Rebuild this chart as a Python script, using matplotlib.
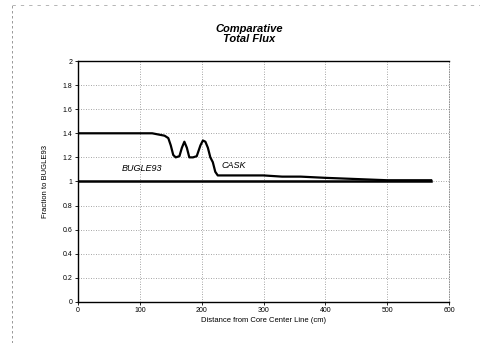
import matplotlib
matplotlib.use("Agg")
import matplotlib.pyplot as plt
import matplotlib.ticker as ticker

plt.rcParams['font.family'] = ['Liberation Sans', 'DejaVu Sans']

# CASK curve
cask_x = [0, 60, 100, 120, 130, 140, 146, 150, 154, 158, 164, 168, 172, 176, 180, 186,
          192, 198, 202, 206, 210, 214, 218, 222, 226, 240, 300, 330, 360, 400, 450, 500, 571]
cask_y = [1.40, 1.40, 1.40, 1.40, 1.39, 1.38, 1.36, 1.30, 1.22, 1.20, 1.21, 1.28, 1.33, 1.28,
          1.20, 1.20, 1.21, 1.30, 1.34, 1.33, 1.28, 1.20, 1.16, 1.08, 1.05, 1.05, 1.05, 1.04,
          1.04, 1.03, 1.02, 1.01, 1.01]

# BUGLE93 reference
bugle_x = [0, 571]
bugle_y = [1.0, 1.0]

xticks = [0, 100, 200, 300, 400, 500, 600]
yticks = [0, 0.2, 0.4, 0.6, 0.8, 1, 1.2, 1.4, 1.6, 1.8, 2]

fig = plt.figure(figsize=(4.8, 3.43), dpi=100)
ax = fig.add_axes([0.1625, 0.12, 0.773, 0.702])

ax.plot(bugle_x, bugle_y, color='black', lw=1.8)
ax.plot(cask_x, cask_y, color='black', lw=1.6)

ax.text(70, 1.07, 'BUGLE93', fontsize=6.5, style='italic', ha='left', va='bottom')
ax.text(232, 1.13, 'CASK', fontsize=6.5, style='italic', ha='left', va='center')

ax.set_xlim(0, 600)
ax.set_ylim(0, 2)
ax.set_xticks(xticks)
ax.set_yticks(yticks)
ax.yaxis.set_major_formatter(ticker.FuncFormatter(lambda v, p: '%g' % v))
ax.tick_params(labelsize=5, length=2.5, width=0.6, direction='out', pad=1.5)

ax.grid(True, color='#888888', linestyle=(0, (1, 2)), linewidth=0.6)
ax.spines['left'].set_linewidth(1.0)
ax.spines['bottom'].set_linewidth(1.0)
ax.spines['top'].set_linewidth(1.0)
ax.spines['right'].set_linestyle((0, (1, 2)))
ax.spines['right'].set_linewidth(0.6)
ax.spines['right'].set_color('#777777')

ax.set_xlabel('Distance from Core Center Line (cm)', fontsize=5.5, labelpad=2)
ax.set_ylabel('Fraction to BUGLE93', fontsize=5.5, labelpad=10)

fig.text(0.52, 0.90, 'Comparative\nTotal Flux', ha='center', va='center',
         fontsize=8, fontweight='bold', style='italic', linespacing=1.05)

# faint dashed frame around the chart area
fig.add_artist(plt.Line2D([0.025, 0.025], [0.0, 0.985], color='#888888',
                          lw=0.6, linestyle=(0, (3, 3))))
fig.add_artist(plt.Line2D([0.025, 1.0], [0.985, 0.985], color='#aaaaaa',
                          lw=0.6, linestyle=(0, (4, 6))))

fig.savefig('out.png', dpi=100)
